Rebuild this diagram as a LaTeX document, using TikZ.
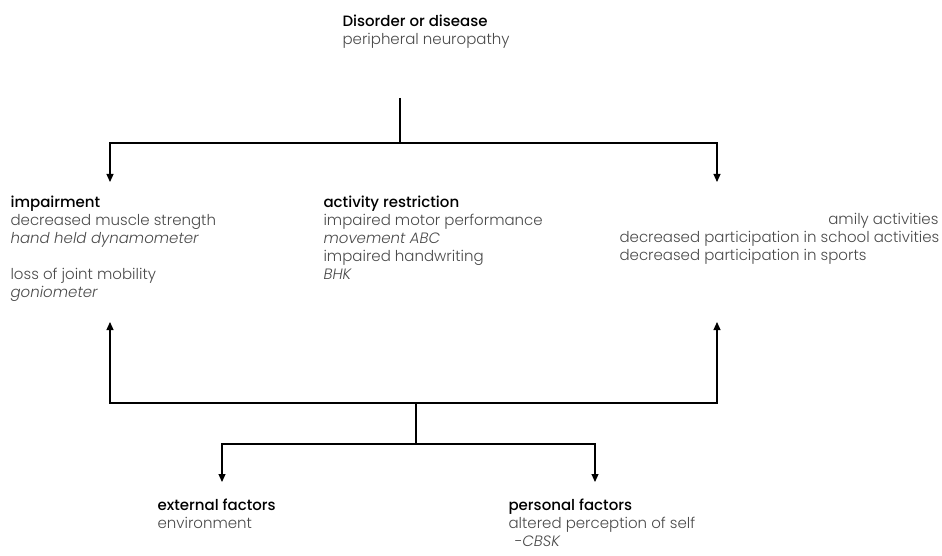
\documentclass[tikz,border=0pt]{standalone}
\usepackage{fontspec}
\setmainfont{Poppins}[UprightFont=* Light, ItalicFont=* Light Italic, BoldFont=* Medium]
\usepackage{tikz}
\usetikzlibrary{arrows.meta}
\definecolor{txtgray}{HTML}{4A4A4A}
\newcommand{\hd}[1]{{\color{black}\bfseries #1}}
\newcommand{\tool}[1]{\textit{#1}}

\begin{document}
\begin{tikzpicture}[x=1pt, y=-1pt, ->, >={Triangle[length=8pt,width=7pt]}, line width=1.1pt,
  txt/.style={anchor=north west, align=left, inner sep=0pt, text=txtgray,
    font=\fontsize{15}{18}\selectfont}]
\useasboundingbox (0,0) rectangle (942,556);
%
% upper level
\node (dis) [txt] at (342,14) {\hd{Disorder or disease}\\peripheral neuropathy};
%
\node (imp) [txt] at (10,195) {\hd{impairment}\\decreased muscle strength\\\tool{hand held dynamometer}\\[18pt]loss of joint mobility\\\tool{goniometer}};
\node (act) [txt] at (323,195) {\hd{activity restriction}\\impaired motor performance\\\tool{movement ABC}\\impaired handwriting\\\tool{BHK}};
\node (fam) [txt, anchor=north east] at (939,213) {amily activities};
\node (par) [txt] at (619,231) {decreased participation in school activities\\decreased participation in sports};
%
% lower level
\node (ext) [txt] at (157,498) {\hd{external factors}\\environment};
\node (per) [txt] at (508,498) {\hd{personal factors}\\altered perception of self\\\hspace*{6pt}\tool{-CBSK}};
%
\coordinate (t0) at (400,98);
\coordinate (t1) at (400,143);
\coordinate (ti) at (110,182);
\coordinate (tp) at (717,182);
\coordinate (m0) at (416,403);
\coordinate (m1) at (416,444);
\coordinate (mi) at (110,322);
\coordinate (mp) at (717,322);
\coordinate (be) at (222,482);
\coordinate (bp) at (595,482);
%
\draw (t0) -- (t1) -| (ti);
\draw (t1) -| (tp);
\draw (m1) -- (m0) -| (mi);
\draw (m0) -| (mp);
\draw (m0) -- (m1) -| (be);
\draw (m1) -| (bp);
\end{tikzpicture}
\end{document}
